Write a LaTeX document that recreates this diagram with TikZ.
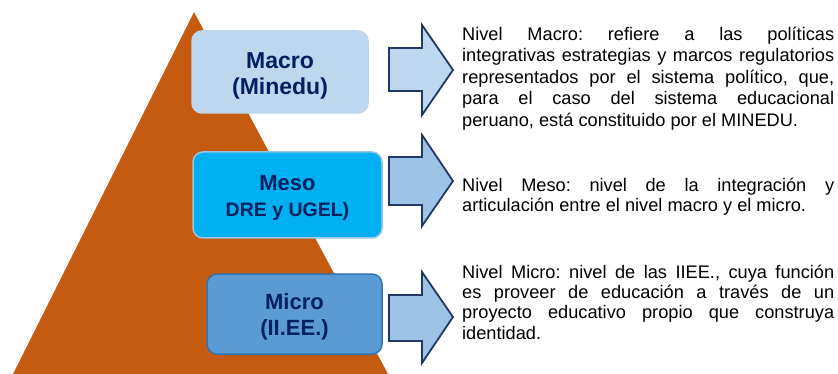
\documentclass[tikz,border=0pt]{standalone}
\usepackage{fontspec}
\setmainfont{Liberation Sans}
\definecolor{pyr}{HTML}{C55A11}
\definecolor{navy}{HTML}{002060}
\definecolor{arrowline}{HTML}{203864}
\definecolor{macrofill}{HTML}{BDD7EE}
\definecolor{mesofill}{HTML}{00B0F0}
\definecolor{mesoline}{HTML}{9DC3E6}
\definecolor{microfill}{HTML}{5B9BD5}
\definecolor{microline}{HTML}{2E75B6}
\definecolor{arrowfill}{HTML}{9DC3E6}
\tikzset{
  levelbox/.style={rounded corners=10pt, line width=1.5pt, inner sep=0pt},
  boxtext/.style={inner sep=0pt, align=center, text=navy, font=\bfseries\fontsize{23}{26}\selectfont},
  blockarrow/.style={draw=arrowline, line width=1.8pt, line join=miter},
  desc/.style={anchor=north west, inner sep=0pt, text width=372pt, align=justify,
    text=black}
}
\begin{document}
\frenchspacing
\hyphenpenalty=10000
\exhyphenpenalty=10000
\begin{tikzpicture}[x=1pt,y=-1pt]
\useasboundingbox (0,0) rectangle (838,374);
% pyramid
\fill[pyr] (194,12) -- (388,374) -- (13,374) -- cycle;
% level boxes
\node[levelbox, fill=macrofill, draw=macrofill, minimum width=176pt, minimum height=82pt] (macro) at (280,72) {};
\node[boxtext] (macrotext) at ([yshift=-4pt]macro.center) {Macro\\(Minedu)};
\node[levelbox, fill=mesofill, draw=mesoline, minimum width=189pt, minimum height=86pt] (meso) at (287.5,195) {};
\node[boxtext, font=\bfseries\fontsize{22}{26}\selectfont] (mesotext) at ([yshift=-3pt]meso.center)
  {Meso\\{\fontsize{19.5}{26}\selectfont DRE y UGEL)}};
\node[levelbox, fill=microfill, draw=microline, minimum width=175pt, minimum height=80pt] (micro) at (294.5,314) {};
\node[boxtext, font=\bfseries\fontsize{22}{26}\selectfont] (microtext) at ([yshift=-3pt]micro.center)
  {Micro\\(II.EE.)};
% block arrows
\fill[macrofill, blockarrow] (389,48) -- (422,48) -- (422,25) -- (453,70) -- (422,115) -- (422,91) -- (389,91) -- cycle;
\fill[arrowfill, blockarrow] (389,157) -- (422,157) -- (422,135) -- (453,181) -- (422,226) -- (422,205) -- (389,205) -- cycle;
\fill[arrowfill, blockarrow] (389,295) -- (422,295) -- (422,272) -- (453,317) -- (422,363) -- (422,341) -- (389,341) -- cycle;
% descriptions
\node[desc, font=\fontsize{18.2}{21.5}\selectfont] (dmacro) at (462,26.7) {Nivel Macro: refiere a las políticas\linebreak integrativas estrategias y marcos regulatorios\linebreak representados por el sistema político, que,\linebreak para el caso del sistema educacional\linebreak peruano, está constituido por el MINEDU.};
\node[desc, font=\fontsize{18.2}{20.3}\selectfont] (dmeso) at (462,177.4) {Nivel Meso: nivel de la integración y\linebreak articulación entre el nivel macro y el micro.};
\node[desc, font=\fontsize{18.2}{20.3}\selectfont] (dmicro) at (462,264.7) {Nivel Micro: nivel de las IIEE., cuya función\linebreak es proveer de educación a través de un\linebreak proyecto educativo propio que construya\linebreak identidad.};
\end{tikzpicture}
\end{document}
